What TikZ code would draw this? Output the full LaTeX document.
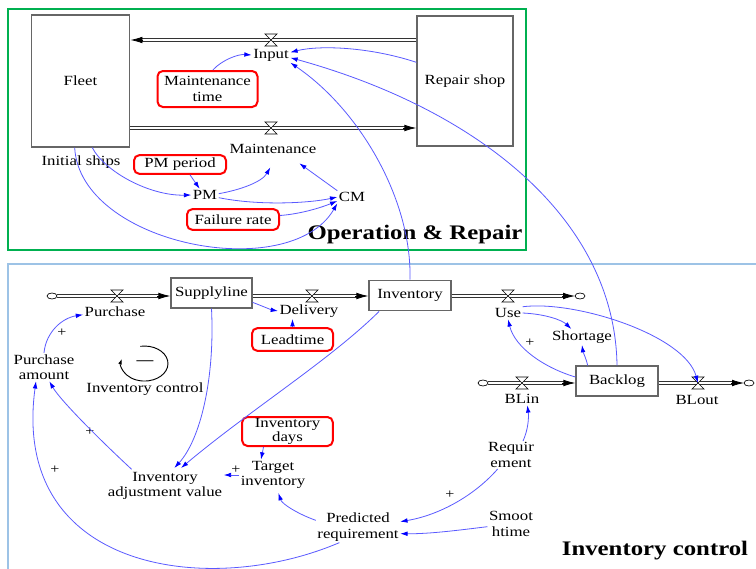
\documentclass[tikz,border=0pt]{standalone}
\usepackage{fontspec}
\setmainfont{Liberation Serif}[FakeStretch=1.2]
\usetikzlibrary{arrows.meta,calc}
\definecolor{frgreen}{RGB}{0,176,80}
\definecolor{frblue}{RGB}{157,195,230}
\definecolor{linkblue}{RGB}{90,90,255}
\definecolor{tipblue}{RGB}{0,0,255}
\def\valve(#1){\draw[fill=white, line width=0.5pt, shift={(#1)}] (-6, -6) -- (6, -6) -- (-6, 6) -- (6, 6) -- cycle;}
\def\cloudsym(#1){\draw[line width=0.5pt, shift={(#1)}] (0, 0) ellipse (5 and 3);}
\tikzset{
	var/.style={inner sep=1pt, align=center, font=\fontsize{10.5}{11.5}\selectfont},
	stock/.style={draw=black!60, line width=0.9pt, var},
	param/.style={draw=red, line width=1.5pt, rounded corners=4pt, var},
	pipe/.style={draw=black!80, line width=0.7pt, double=white, double distance=1.8pt},
	pipetip/.style={-{Latex[length=9pt, width=5pt]}, line width=0.6pt},
	link/.style={draw=linkblue, line width=0.6pt, -{Latex[length=5.5pt, width=3.5pt, color=tipblue]}},
	sign/.style={font=\fontsize{10}{10}\selectfont, inner sep=0pt},
	title/.style={font=\fontsize{15.5}{16}\selectfont\bfseries, inner sep=0pt}
}

\begin{document}
\begin{tikzpicture}[x=0.75pt, y=-0.75pt]
	%%%%% START %%%%%
	\useasboundingbox (0, 0) rectangle (756, 568);
	\clip (0, 0) rectangle (756, 568);
	\fill[white] (0, 0) rectangle (756, 568);

	\draw[frgreen, line width=2.2pt] (8, 9) rectangle (526, 250);
	\draw[frblue, line width=2pt] (8, 264) rectangle (775, 590);

	% operation & repair
	\node[stock, minimum width=74pt, minimum height=99pt] (fleet) at (80.5, 81) {Fleet};
	\node[stock, minimum width=72pt, minimum height=97.5pt] (repair) at (465, 81) {Repair shop};

	\coordinate (vin) at (271, 40);
	\coordinate (vmaint) at (271, 128);
	\coordinate (fin) at (fleet.east |- vin);
	\coordinate (rin) at (repair.west |- vmaint);
	\draw[pipe] (repair.west |- vin) -- ($(fin)+(10, 0)$);
	\draw[pipetip] ($(fin)+(13, 0)$) -- (fin);
	\draw[pipe] (fleet.east |- vmaint) -- ($(rin)+(-10, 0)$);
	\draw[pipetip] ($(rin)+(-13, 0)$) -- (rin);
	\valve(vin)
	\valve(vmaint)

	\node[var] (input) at (271, 55) {Input};
	\node[var] (maint) at (273, 149) {Maintenance};
	\node[param, minimum width=75pt, minimum height=27pt] (mtime) at (207.5, 89) {Maintenance\\time};
	\node[var] (inits) at (81, 162) {Initial ships};
	\node[param, minimum width=69pt, minimum height=14pt] (pmper) at (180, 164.5) {PM period};
	\node[var] (pm) at (205, 195) {PM};
	\node[var] (cm) at (352, 197) {CM};
	\node[param, minimum width=69pt, minimum height=15.5pt] (frate) at (233, 219.5) {Failure rate};
	\node[title] (opr) at (415, 235) {Operation \& Repair};

	\draw[link] ([xshift=4pt]mtime.north) .. controls (222, 60) and (238, 54) .. (input.west);
	\draw[link] ([yshift=14pt]repair.west) .. controls (370, 47) and (320, 45) .. ([yshift=2pt]input.east);
	\draw[link] (fleet.-80) .. controls (105, 172) and (150, 196) .. (pm.west);
	\draw[link] (fleet.-95) .. controls (80, 245) and (290, 285) .. (cm.south west);
	\draw[link] ([xshift=7.5pt]pmper.south) -- ([xshift=-4pt]pm.north);
	\draw[link] ([yshift=1pt]pm.east) .. controls (240, 190) and (262, 182) .. ([xshift=-2pt, yshift=-9pt]maint.south);
	\draw[link] ([yshift=-2pt]pm.east) .. controls (260, 206) and (310, 203) .. (cm.west);
	\draw[link] ([yshift=3pt]frate.east) .. controls (300, 214) and (320, 208) .. ([yshift=-3pt]cm.west);
	\draw[link] (cm.north west) -- ([xshift=-14pt, yshift=-6pt]maint.south east);

	% inventory control
	\node[stock, minimum width=60.75pt, minimum height=22.5pt] (supply) at (211.5, 293) {Supplyline};
	\node[stock, minimum width=61.5pt, minimum height=23pt] (inv) at (410, 295.5) {Inventory};
	\node[stock, minimum width=61.5pt, minimum height=22.5pt] (backlog) at (617, 381) {Backlog};

	\coordinate (srcbuy) at (52, 296);
	\coordinate (sinkuse) at (580, 296);
	\coordinate (srcbl) at (483, 383);
	\coordinate (sinkbl) at (749, 383);
	\coordinate (vpur) at (117, 296);
	\coordinate (vdel) at (312, 296);
	\coordinate (vuse) at (508, 296);
	\coordinate (vblin) at (522, 383);
	\coordinate (vout) at (698, 383);
	\coordinate (sin) at (supply.west |- srcbuy);
	\coordinate (iin) at (inv.west |- vdel);
	\coordinate (bin) at (backlog.west |- vblin);

	\draw[pipe] ($(srcbuy)+(5, 0)$) -- ($(sin)+(-10, 0)$);
	\draw[pipetip] ($(sin)+(-13, 0)$) -- (sin);
	\draw[pipe] (supply.east |- vdel) -- ($(iin)+(-10, 0)$);
	\draw[pipetip] ($(iin)+(-13, 0)$) -- (iin);
	\draw[pipe] (inv.east |- vuse) -- ($(sinkuse)+(-15, 0)$);
	\draw[pipetip] ($(sinkuse)+(-18, 0)$) -- ($(sinkuse)+(-5, 0)$);
	\draw[pipe] ($(srcbl)+(5, 0)$) -- ($(bin)+(-10, 0)$);
	\draw[pipetip] ($(bin)+(-13, 0)$) -- (bin);
	\draw[pipe] (backlog.east |- vout) -- ($(sinkbl)+(-15, 0)$);
	\draw[pipetip] ($(sinkbl)+(-18, 0)$) -- ($(sinkbl)+(-5, 0)$);
	\cloudsym(srcbuy)
	\cloudsym(sinkuse)
	\cloudsym(srcbl)
	\cloudsym(sinkbl)
	\valve(vpur)
	\valve(vdel)
	\valve(vuse)
	\valve(vblin)
	\valve(vout)

	\node[var] (purchase) at (115, 312) {Purchase};
	\node[var] (delivery) at (309, 311) {Delivery};
	\node[var] (use) at (508, 313) {Use};
	\node[var] (blin) at (522, 399) {BLin};
	\node[var] (blout) at (697, 400) {BLout};
	\node[var] (pamount) at (44, 367) {Purchase\\amount};
	\node[param, minimum width=60.75pt, minimum height=17pt] (lead) at (292.5, 339.5) {Leadtime};
	\node[var] (shortage) at (582, 337) {Shortage};
	\node[var] (loopname) at (145, 389) {Inventory control};
	\node[param, minimum width=68pt, minimum height=21.75pt, font=\fontsize{10.5}{10}\selectfont] (days) at (287.5, 431.5) {Inventory\\days};
	\node[var] (target) at (273, 475) {Target\\inventory};
	\node[var] (adjust) at (165, 486) {Inventory\\adjustment value};
	\node[var] (pred) at (358, 527) {Predicted\\requirement};
	\node[var] (req) at (511, 455) {Requir\\ement};
	\node[var] (smooth) at (511, 524) {Smoot\\htime};
	\node[title] (invc) at (655, 551) {Inventory control};

	% loop marker
	\node[var, font=\fontsize{10.5}{11.5}\selectfont\bfseries] (loopsign) at (145, 363) {—};
	\draw[line width=0.7pt, -{Latex[length=4pt, width=3pt]}] (140.4, 346.3) arc[start angle=-100, end angle=195, x radius=23.5, y radius=17.5];

	\node[sign] (p1) at (62, 333) {+};
	\node[sign] (p2) at (90, 432) {+};
	\node[sign] (p3) at (55, 470) {+};
	\node[sign] (p4) at (236, 470) {+};
	\node[sign] (p5) at (450, 495) {+};
	\node[sign] (p6) at (530, 343) {+};

	\draw[link] (inv.north) .. controls (412, 200) and (360, 110) .. (input.south east);
	\draw[link] (backlog.north) .. controls (615, 220) and (480, 110) .. ([yshift=-2pt]input.east);
	\draw[link] (pamount.north) .. controls (46, 332) and (62, 318) .. ([yshift=-2pt]purchase.west);
	\draw[link] ([yshift=-7pt]supply.east) .. controls (262, 306) and (272, 310) .. (delivery.west);
	\draw[link] (lead.north) -- (lead.north |- delivery.south);
	\draw[link] (supply.south) .. controls (215, 380) and (200, 440) .. ([xshift=7pt, yshift=2pt]adjust.north);
	\draw[link] ([xshift=8pt]inv.south west) .. controls (330, 360) and (250, 410) .. ([xshift=12pt, yshift=2pt]adjust.north);
	\draw[link] ([xshift=-25pt, yshift=1pt]adjust.north) .. controls (100, 440) and (60, 400) .. ([xshift=4pt]pamount.south);
	\draw[link] (pred.-140) .. controls (210, 598) and (10, 572) .. ([xshift=-6pt]pamount.south);
	\draw[link] ([xshift=-18pt]days.south) -- ([xshift=-9pt]target.north);
	\draw[link] (target.west) -- (adjust.east |- target.west);
	\draw[link] ([yshift=5pt]pred.west) .. controls (298, 514) and (282, 504) .. ([xshift=4pt, yshift=-2pt]target.south);
	\draw[link] ([xshift=-10pt]req.south) .. controls (475, 495) and (440, 515) .. ([yshift=4pt]pred.east);
	\draw[link] ([xshift=9pt]req.north) .. controls (528, 430) and (529, 418) .. ([xshift=4pt]blin.south);
	\draw[link] ([yshift=-2pt]smooth.west) .. controls (460, 530) and (430, 534) .. ([yshift=-5pt]pred.east);
	\draw[link] ([yshift=3pt]backlog.west) .. controls (545, 368) and (515, 348) .. (use.south);
	\draw[link] (use.east) .. controls (545, 314) and (562, 320) .. ([xshift=-8pt]shortage.north);
	\draw[link] ([xshift=-22pt]backlog.north) .. controls (586, 358) and (583, 352) .. (shortage.south);
	\draw[link] (use.north east) .. controls (575, 300) and (685, 335) .. (vout);

	%%%%% END %%%%%
\end{tikzpicture}
\end{document}
